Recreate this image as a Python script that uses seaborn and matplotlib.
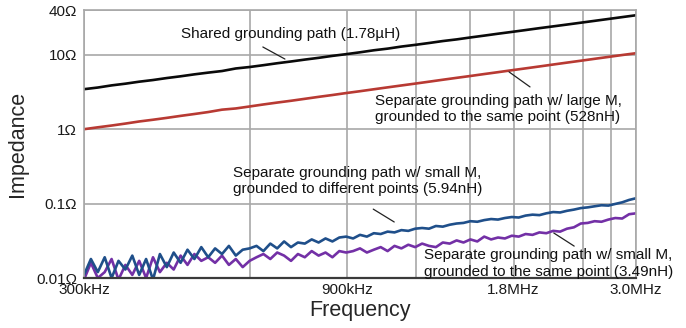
import numpy as np
import pandas as pd
import matplotlib
matplotlib.use("Agg")
import matplotlib.pyplot as plt
import seaborn as sns

# ---------------- data ----------------
series_names = [
    "Shared grounding path (1.78µH)",
    "Separate w/ large M, same point (528nH)",
    "Separate w/ small M, same point (3.49nH)",
    "Separate w/ small M, different points (5.94nH)",
]

shared_vals = [3.45, 3.63, 3.88, 4.09, 4.35, 4.58, 4.87, 5.14, 5.46, 5.76,
               6.05, 6.55, 6.85, 7.25, 7.70, 8.13, 8.62, 9.10, 9.67, 10.2,
               10.8, 11.5, 12.1, 12.9, 13.6, 14.4, 15.3, 16.1, 17.1, 18.1,
               19.2, 20.3, 21.5, 22.8, 24.1, 25.5, 27.0, 28.6, 30.3, 32.1, 34.0]

large_m_vals = [1.00, 1.06, 1.12, 1.19, 1.27, 1.34, 1.42, 1.51, 1.60, 1.70,
                1.83, 1.90, 2.02, 2.15, 2.28, 2.41, 2.56, 2.72, 2.88, 3.06,
                3.24, 3.44, 3.65, 3.87, 4.10, 4.35, 4.62, 4.90, 5.19, 5.51,
                5.84, 6.20, 6.57, 6.97, 7.40, 7.85, 8.32, 8.83, 9.36, 9.93, 10.5]

small_m_diff_vals = [
    0.011, 0.018, 0.012, 0.019, 0.010, 0.017, 0.013, 0.020, 0.011, 0.018, 0.0095, 0.021, 0.014,
    0.022, 0.016, 0.024, 0.018, 0.026, 0.019, 0.025, 0.021, 0.027, 0.020, 0.024, 0.025,
    0.027, 0.023, 0.029, 0.025, 0.031, 0.026, 0.030, 0.029, 0.033, 0.030, 0.034, 0.031, 0.035, 0.036,
    0.034, 0.038, 0.036, 0.040, 0.039, 0.042, 0.041, 0.044, 0.043, 0.046, 0.047, 0.046, 0.050, 0.049,
    0.052, 0.054, 0.055, 0.058,
    0.057, 0.060, 0.062, 0.061, 0.064, 0.066, 0.065, 0.069, 0.071, 0.070, 0.074, 0.077, 0.076,
    0.080, 0.083, 0.087,
    0.089, 0.092, 0.095, 0.094, 0.099, 0.104, 0.112, 0.118]

small_m_same_vals = [
    0.0095, 0.016, 0.010, 0.012, 0.018, 0.0095, 0.015, 0.011, 0.017, 0.010, 0.019, 0.012, 0.016,
    0.013, 0.020, 0.015, 0.021, 0.017, 0.019, 0.016, 0.020, 0.015, 0.018, 0.014, 0.017,
    0.019, 0.021, 0.018, 0.022, 0.020, 0.017, 0.021, 0.019, 0.023, 0.020, 0.022, 0.019, 0.023, 0.022,
    0.023, 0.025, 0.022, 0.024, 0.026, 0.023, 0.027, 0.025, 0.028, 0.026, 0.029, 0.027, 0.026, 0.030,
    0.029, 0.032, 0.030, 0.033,
    0.031, 0.036, 0.033, 0.035, 0.034, 0.037, 0.036, 0.039, 0.038, 0.041, 0.040, 0.043, 0.042,
    0.046, 0.048, 0.054,
    0.055, 0.058, 0.057, 0.061, 0.064, 0.063, 0.072, 0.074]

x_grid_values = [3e5, 6e5, 9e5, 1.2e6, 1.5e6, 1.8e6, 2.1e6, 2.4e6, 2.7e6, 3.0e6]
x_tick_values = [3e5, 9e5, 1.8e6, 3.0e6]
x_tick_labels = ["300kHz", "900kHz", "1.8MHz", "3.0MHz"]
y_tick_values = [0.01, 0.1, 1, 10, 40]
y_tick_labels = ["0.01Ω", "0.1Ω", "1Ω", "10Ω", "40Ω"]

# ---------------- build table ----------------
f_smooth = np.geomspace(3e5, 3e6, len(shared_vals))
f_noisy = np.geomspace(3e5, 3e6, len(small_m_diff_vals))
frames = [
    pd.DataFrame({"freq": f_smooth, "z": shared_vals, "series": series_names[0]}),
    pd.DataFrame({"freq": f_smooth, "z": large_m_vals, "series": series_names[1]}),
    pd.DataFrame({"freq": f_noisy, "z": small_m_same_vals, "series": series_names[2]}),
    pd.DataFrame({"freq": f_noisy, "z": small_m_diff_vals, "series": series_names[3]}),
]
df = pd.concat(frames, ignore_index=True)

palette = {
    series_names[0]: "#0a0a0a",
    series_names[1]: "#b83a33",
    series_names[2]: "#7330a6",
    series_names[3]: "#1f4f8a",
}

sns.set_style("white")
plt.rcParams["font.family"] = ["Liberation Sans", "DejaVu Sans"]

fig = plt.figure(figsize=(6.86, 3.28), dpi=100)
ax = fig.add_axes([84 / 686, 1 - 278 / 328, 552 / 686, 268 / 328])

sns.lineplot(data=df, x="freq", y="z", hue="series", hue_order=series_names,
             palette=palette, estimator=None, sort=False, legend=False,
             linewidth=1.9, ax=ax)

ax.set_xscale("log")
ax.set_yscale("log")
ax.set_xlim(3e5, 3e6)
ax.set_ylim(0.01, 40)

grid_c = "#a8a8a8"
for xv in x_grid_values:
    ax.axvline(xv, color=grid_c, lw=1.2, zorder=0)
for yv in y_tick_values:
    ax.axhline(yv, color=grid_c, lw=1.2, zorder=0)

ax.xaxis.set_minor_locator(matplotlib.ticker.NullLocator())
ax.yaxis.set_minor_locator(matplotlib.ticker.NullLocator())
ax.set_xticks(x_tick_values)
ax.set_xticklabels(x_tick_labels)
ax.set_yticks(y_tick_values)
ax.set_yticklabels(y_tick_labels)
ax.tick_params(axis="both", length=0, labelsize=11, colors="#1a1a1a")
ax.tick_params(axis="x", pad=3.5)
ax.tick_params(axis="y", pad=5)

for s in ["top", "right", "left"]:
    ax.spines[s].set_color(grid_c)
    ax.spines[s].set_linewidth(1.2)
ax.spines["bottom"].set_color("#3a3a3a")
ax.spines["bottom"].set_linewidth(1.6)

ax.set_xlabel("Frequency", fontsize=15.5, labelpad=2)
ax.set_ylabel("Impedance", fontsize=15.5, labelpad=6)

# ---------------- annotations ----------------
tk = dict(transform=ax.transAxes, fontsize=11, color="#111111", clip_on=False,
          linespacing=1.2)
ax.text(0.176, 0.910, "Shared grounding path (1.78µH)", va="center", ha="left", **tk)
ax.text(0.527, 0.631, "Separate grounding path w/ large M,\ngrounded to the same point (528nH)",
        va="center", ha="left", **tk)
ax.text(0.270, 0.362, "Separate grounding path w/ small M,\ngrounded to different points (5.94nH)",
        va="center", ha="left", **tk)
ax.text(0.616, 0.054, "Separate grounding path w/ small M,\ngrounded to the same point (3.49nH)",
        va="center", ha="left", **tk)

leaders = [((0.324, 0.862), (0.364, 0.817)),
           ((0.770, 0.769), (0.808, 0.713)),
           ((0.524, 0.257), (0.562, 0.209)),
           ((0.851, 0.168), (0.888, 0.119))]
for (x0, y0), (x1, y1) in leaders:
    ax.plot([x0, x1], [y0, y1], transform=ax.transAxes, color="#222222", lw=0.9,
            clip_on=False, zorder=5)

fig.savefig("out.png", dpi=100)
